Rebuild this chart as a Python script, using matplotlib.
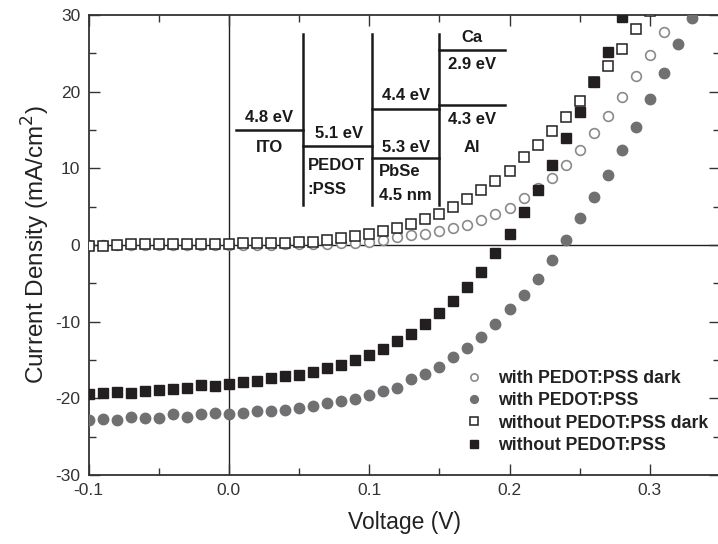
import numpy as np
import matplotlib.pyplot as plt
from matplotlib.ticker import MultipleLocator

plt.rcParams['font.family'] = ['Liberation Sans', 'DejaVu Sans']
plt.rcParams['axes.unicode_minus'] = False

# voltage grid (V)
voltage = [-0.10, -0.09, -0.08, -0.07, -0.06, -0.05, -0.04, -0.03, -0.02, -0.01,
           0.00, 0.01, 0.02, 0.03, 0.04, 0.05, 0.06, 0.07, 0.08, 0.09,
           0.10, 0.11, 0.12, 0.13, 0.14, 0.15, 0.16, 0.17, 0.18, 0.19,
           0.20, 0.21, 0.22, 0.23, 0.24, 0.25, 0.26, 0.27, 0.28, 0.29,
           0.30, 0.31, 0.32, 0.33]

# with PEDOT:PSS, dark (open circles), -0.10 .. 0.31
pedot_dark = [0.0, 0.0, 0.0, 0.0, 0.0, 0.0, 0.0, 0.0, 0.0, 0.0,
              0.0, 0.02, 0.04, 0.06, 0.08, 0.10, 0.13, 0.15, 0.20, 0.30,
              0.44, 0.60, 1.0, 1.25, 1.5, 1.8, 2.2, 2.65, 3.25, 4.1,
              4.85, 6.1, 7.4, 8.8, 10.5, 12.4, 14.6, 16.8, 19.3, 22.1,
              24.8, 27.8]

# with PEDOT:PSS, illuminated (filled circles), -0.10 .. 0.33
pedot_light = [-22.8, -22.7, -22.8, -22.4, -22.5, -22.5, -22.1, -22.4, -22.1, -21.9,
               -22.0, -21.9, -21.7, -21.7, -21.5, -21.2, -21.0, -20.6, -20.3, -20.1,
               -19.5, -19.0, -18.6, -17.5, -16.8, -15.9, -14.6, -13.4, -12.0, -10.3,
               -8.4, -6.5, -4.4, -2.0, 0.7, 3.5, 6.2, 9.1, 12.4, 15.4,
               19.1, 22.4, 26.2, 29.6]

# without PEDOT:PSS, dark (open squares), -0.10 .. 0.30
nopedot_dark = [-0.10, -0.13, 0.0, 0.09, 0.09, 0.09, 0.09, 0.09, 0.09, 0.09,
                0.13, 0.22, 0.22, 0.26, 0.30, 0.35, 0.43, 0.65, 0.87, 1.2,
                1.44, 1.85, 2.2, 2.7, 3.4, 4.05, 5.0, 6.0, 7.2, 8.4,
                9.7, 11.5, 13.0, 14.9, 16.7, 18.8, 21.2, 23.3, 25.6, 28.2,
                30.5]

# without PEDOT:PSS, illuminated (filled squares), -0.10 .. 0.28
nopedot_light = [-19.4, -19.3, -19.2, -19.3, -19.0, -18.9, -18.8, -18.6, -18.3, -18.4,
                 -18.1, -17.9, -17.8, -17.4, -17.1, -17.0, -16.5, -16.1, -15.6, -15.0,
                 -14.4, -13.5, -12.5, -11.6, -10.3, -8.9, -7.3, -5.5, -3.5, -1.05,
                 1.4, 4.3, 7.2, 10.5, 13.9, 17.4, 21.3, 25.2, 29.8]

labels = ['with PEDOT:PSS dark', 'with PEDOT:PSS',
          'without PEDOT:PSS dark', 'without PEDOT:PSS']

# energy level diagram labels
levels = ['4.8 eV', '5.1 eV', '4.4 eV', '5.3 eV', '2.9 eV', '4.3 eV']

ink = '#231f20'
grey = '#707072'

fig = plt.figure(figsize=(7.18, 5.44), dpi=100)
ax = fig.add_axes([88.5 / 718, 1 - 475 / 544, 631.5 / 718, 460 / 544])

ax.axhline(0, color=ink, lw=1.0, zorder=1)
ax.axvline(0, color=ink, lw=1.0, zorder=1)

n = len(pedot_dark)
h1, = ax.plot(voltage[:n], pedot_dark, 'o', ms=7, mfc='white', mec='#8a8a8c', mew=1.2,
              label=labels[0], zorder=3)
h2, = ax.plot(voltage[:len(pedot_light)], pedot_light, 'o', ms=7.5, mfc=grey, mec=grey,
              label=labels[1], zorder=3)
h3, = ax.plot(voltage[:len(nopedot_dark)], nopedot_dark, 's', ms=6.8, mfc='white', mec=ink,
              mew=1.1, label=labels[2], zorder=4)
h4, = ax.plot(voltage[:len(nopedot_light)], nopedot_light, 's', ms=6.8, mfc=ink, mec=ink,
              label=labels[3], zorder=4)

ax.set_xlim(-0.1, 0.35)
ax.set_ylim(-30, 30)

ax.set_xticks([-0.1, 0.0, 0.1, 0.2, 0.3])
ax.set_xticklabels(['-0.1', '0.0', '0.1', '0.2', '0.3'])
ax.set_yticks([-30, -20, -10, 0, 10, 20, 30])
ax.xaxis.set_minor_locator(MultipleLocator(0.05))
ax.yaxis.set_minor_locator(MultipleLocator(5))
ax.tick_params(which='both', direction='in', top=True, right=True, color='#333333',
               labelsize=12.5, labelcolor='#333333', width=1)
ax.tick_params(which='major', length=8, pad=6)
ax.tick_params(which='minor', length=5)
for s in ax.spines.values():
    s.set_linewidth(1.3)
    s.set_color('#333333')

ax.set_xlabel('Voltage (V)', fontsize=16.5, color='#222222', labelpad=9)
ax.set_ylabel('Current Density (mA/cm$^2$)', fontsize=17.5, color='#222222', labelpad=2)

# energy level diagram
dcol = '#1a1a1a'
lw = 1.8
ax.plot([0.005, 0.053], [15.0, 15.0], color=dcol, lw=lw)
ax.plot([0.053, 0.102], [12.9, 12.9], color=dcol, lw=lw)
ax.plot([0.102, 0.1495], [17.8, 17.8], color=dcol, lw=lw)
ax.plot([0.102, 0.1495], [11.4, 11.4], color=dcol, lw=lw)
ax.plot([0.1495, 0.197], [25.5, 25.5], color=dcol, lw=lw)
ax.plot([0.1495, 0.197], [18.3, 18.3], color=dcol, lw=lw)
for xv in [0.053, 0.102, 0.1495]:
    ax.plot([xv, xv], [5.2, 27.5], color=dcol, lw=lw)

tk = dict(fontsize=12, fontweight='bold', color='#1a1a1a', va='center')
ax.text(0.029, 16.6, levels[0], ha='center', **tk)
ax.text(0.029, 12.7, 'ITO', ha='center', **tk)
ax.text(0.0785, 14.6, levels[1], ha='center', **tk)
ax.text(0.056, 10.4, 'PEDOT', ha='left', **tk)
ax.text(0.056, 7.2, ':PSS', ha='left', **tk)
ax.text(0.126, 19.5, levels[2], ha='center', **tk)
ax.text(0.126, 12.7, levels[3], ha='center', **tk)
ax.text(0.107, 9.6, 'PbSe', ha='left', **tk)
ax.text(0.107, 6.4, '4.5 nm', ha='left', **tk)
ax.text(0.173, 27.1, 'Ca', ha='center', **tk)
ax.text(0.173, 23.5, levels[4], ha='center', **tk)
ax.text(0.173, 16.4, levels[5], ha='center', **tk)
ax.text(0.173, 12.7, 'Al', ha='center', **tk)

leg = ax.legend(handles=[h1, h2, h3, h4], loc='lower left', bbox_to_anchor=(0.596, 0.046),
                frameon=False, borderpad=0, borderaxespad=0, handlelength=1.0,
                handletextpad=0.9, labelspacing=0.3, markerscale=0.75,
                prop={'size': 12.7, 'weight': 'bold'})
for t in leg.get_texts():
    t.set_color('#222222')

fig.savefig('out.png', dpi=100)
